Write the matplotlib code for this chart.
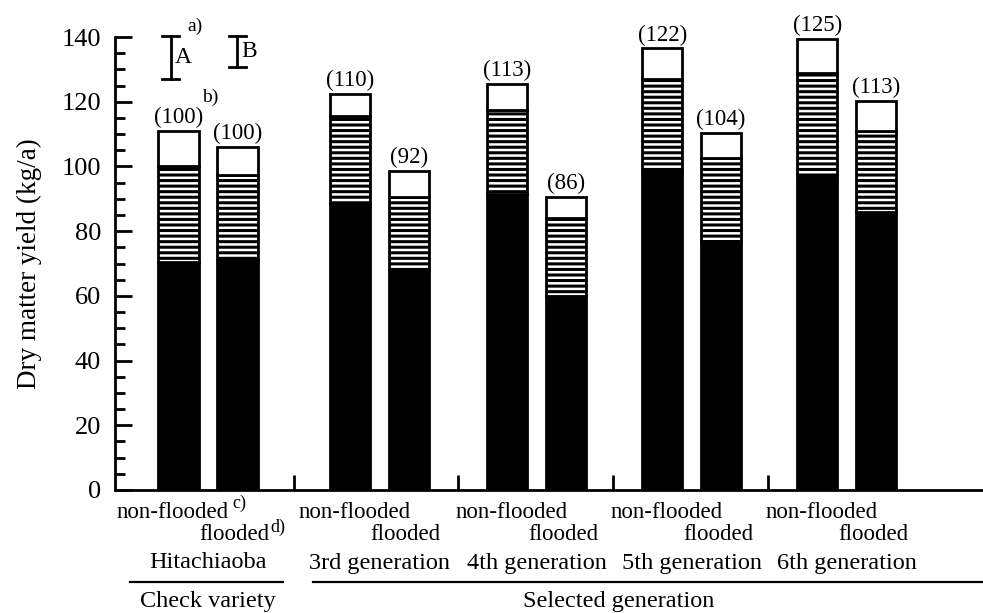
import matplotlib
matplotlib.use('Agg')
import matplotlib.pyplot as plt
import matplotlib.transforms as mtransforms
from matplotlib.lines import Line2D

plt.rcParams['font.family'] = ['Liberation Serif', 'DejaVu Serif']
plt.rcParams['hatch.linewidth'] = 2.2

# data (kg/a)
groups = ['Hitachiaoba', '3rd generation', '4th generation', '5th generation', '6th generation']
group_pos = [0.0, 1.105, 2.12, 3.12, 4.12]
sep_pos = [0.555, 1.61, 2.61, 3.61]
treatments = ['non-flooded', 'flooded']

bottom_part = [70.5, 71, 88.5, 68, 91.5, 60, 98.5, 77, 97.5, 86]    # black
middle_top = [100, 97.5, 115.5, 90.5, 117.5, 84, 127, 102.5, 129, 111]  # hatched up to
total = [111, 106, 122.5, 98.5, 125.5, 90.5, 136.5, 110.3, 139.3, 120.2]
rel_index = ['(100)', '(100)', '(110)', '(92)', '(113)', '(86)', '(122)', '(104)', '(125)', '(113)']

lsd_labels = ['A', 'B']
lsd_x = [-0.24, 0.19]
lsd_top = 140.3
lsd_len = [13.3, 9.6]

W, H = 983, 613
fig = plt.figure(figsize=(W / 100, H / 100), dpi=100)
ax = fig.add_axes([115 / W, (H - 490) / H, 868 / W, 453 / H])

xs = []
for g in group_pos:
	xs += [g - 0.19, g + 0.19]

wid = 0.26
mid_h = [m - b for m, b in zip(middle_top, bottom_part)]
top_h = [t - m for t, m in zip(total, middle_top)]
ax.bar(xs, bottom_part, wid, color='black', edgecolor='black', linewidth=2)
ax.bar(xs, mid_h, wid, bottom=bottom_part, color='white', edgecolor='black',
       linewidth=2, hatch='---')
ax.bar(xs, top_h, wid, bottom=middle_top, color='white', edgecolor='black', linewidth=2)

for x, t, lab in zip(xs, total, rel_index):
	ax.annotate(lab, (x, t), xytext=(0, 2), textcoords='offset points',
	            ha='center', va='bottom', fontsize=16.5)

# LSD bars
cap = 0.055
for x, l, lab in zip(lsd_x, lsd_len, lsd_labels):
	y0 = lsd_top - l
	ax.plot([x, x], [y0, lsd_top], color='black', lw=2, clip_on=False)
	ax.plot([x - cap, x + cap], [lsd_top, lsd_top], color='black', lw=2, clip_on=False)
	ax.plot([x - cap, x + cap], [y0, y0], color='black', lw=2, clip_on=False)
	ax.text(x + 0.025, (lsd_top + y0) / 2, lab, ha='left', va='center', fontsize=17)
ax.text(-0.135, 143.3, 'a)', ha='left', va='center', fontsize=14, clip_on=False)
ax.text(-0.04, 121.4, 'b)', ha='left', va='center', fontsize=14)

ax.set_xlim(-0.6, 5.0)
ax.set_ylim(0, 140)
ax.spines['top'].set_visible(False)
ax.spines['right'].set_visible(False)
ax.spines['left'].set_linewidth(2)
ax.spines['bottom'].set_linewidth(2)

ax.set_yticks(range(0, 141, 20))
ax.set_yticks(range(0, 141, 5), minor=True)
ax.tick_params(axis='y', which='major', direction='in', length=12, width=2, pad=10, labelsize=19)
ax.tick_params(axis='y', which='minor', direction='in', length=7, width=2)
ax.set_xticks(sep_pos)
ax.set_xticklabels([])
ax.tick_params(axis='x', which='major', direction='in', length=11, width=2)

ax.set_ylabel('Dry matter yield (kg/a)', fontsize=19.5)
ax.yaxis.set_label_coords(-0.084, 0.5)

# category text below the axis
tr = mtransforms.blended_transform_factory(ax.transData, fig.transFigure)
def fy(py):
	return (H - py) / H

for i, g in enumerate(group_pos):
	dx = -0.04 if i == 0 else 0.03
	ax.text(g - 0.19 + dx, fy(512), treatments[0], transform=tr, ha='center', va='center', fontsize=16.5)
	ax.text(g + 0.19 - 0.02, fy(535), treatments[1], transform=tr, ha='center', va='center', fontsize=16.5)
	ax.text(g, fy(563), groups[i], transform=tr, ha='center', va='center', fontsize=17.5)
ax.text(0.155, fy(503), 'c)', transform=tr, ha='left', va='center', fontsize=13)
ax.text(0.405, fy(527), 'd)', transform=tr, ha='left', va='center', fontsize=13)

fig.add_artist(Line2D([-0.503, 0.484], [fy(582), fy(582)], transform=tr, color='black', lw=1.6))
fig.add_artist(Line2D([0.677, 5.0], [fy(582), fy(582)], transform=tr, color='black', lw=1.6))
ax.text(0.0, fy(601), 'Check variety', transform=tr, ha='center', va='center', fontsize=17.5)
ax.text(2.65, fy(602), 'Selected generation', transform=tr, ha='center', va='center', fontsize=17.5)

plt.savefig('out.png', dpi=100)
plt.close()
